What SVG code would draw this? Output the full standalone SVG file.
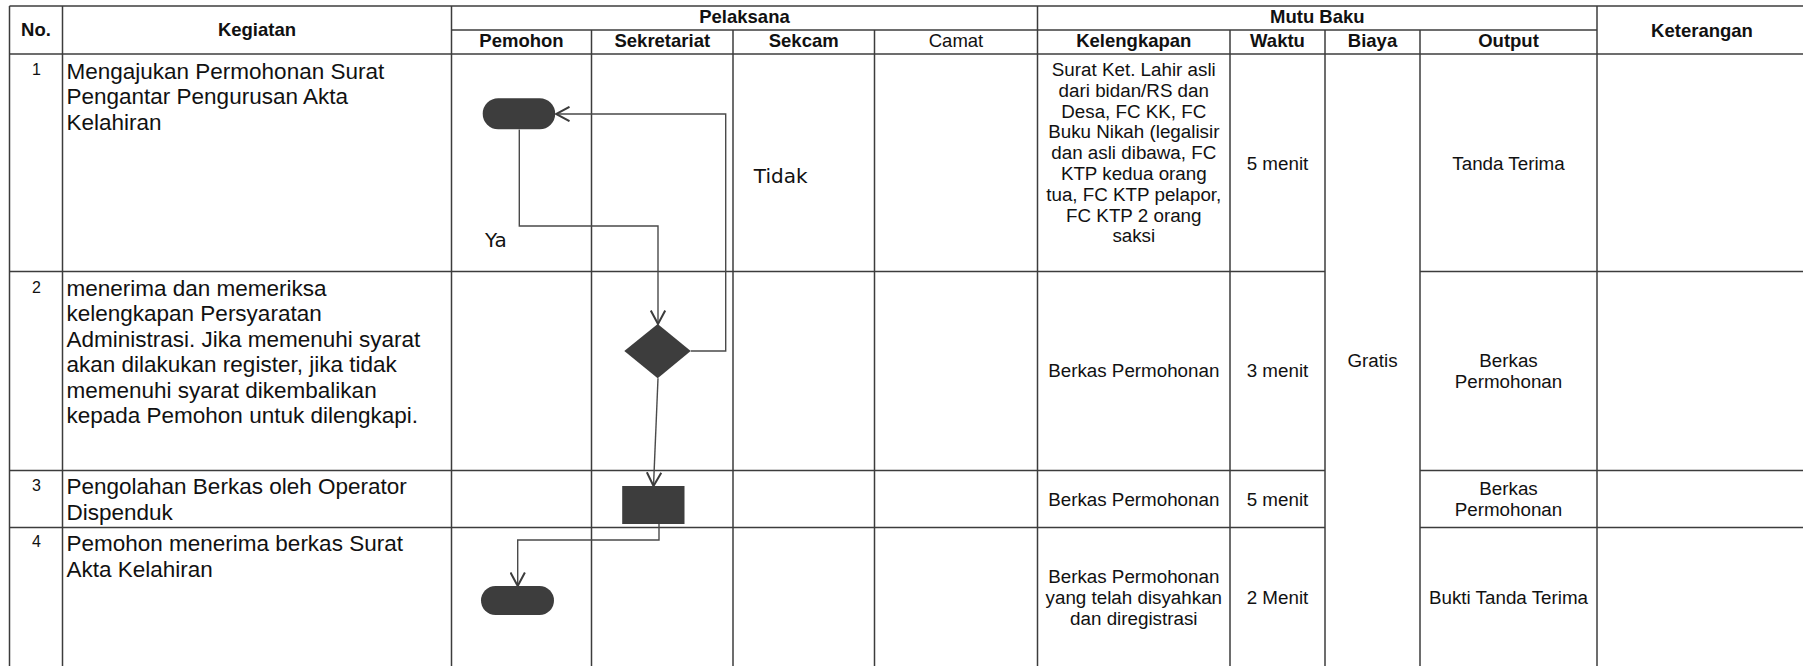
<svg xmlns="http://www.w3.org/2000/svg" width="1803" height="666" viewBox="0 0 1803 666">
<style>
.g{stroke:#3c3c3c;stroke-width:1.5;fill:none}
.c{stroke:#4a4a4a;stroke-width:1.4;fill:none}
.sh{fill:#3d3d3d}
.t{font-family:"Liberation Sans",Arial,sans-serif;fill:#111}
.h{font-size:18.5px;font-weight:bold;text-anchor:middle}
.hn{font-size:18.5px;text-anchor:middle}
.k{font-size:22.5px}
.n{font-size:16px;text-anchor:middle}
.m{font-size:18.8px;text-anchor:middle}
.d{font-family:"DejaVu Sans",sans-serif;font-size:20px;fill:#111}
</style>
<defs>
<marker id="ar" viewBox="0 0 15 16" refX="14" refY="8" markerWidth="15" markerHeight="16" markerUnits="userSpaceOnUse" orient="auto">
<path d="M0.5,0.8 L14,8 L0.5,15.2" fill="none" stroke="#3c3c3c" stroke-width="2"/>
</marker>
</defs>
<rect width="1803" height="666" fill="#fff"/>
<g id="grid" class="g">
<line x1="9.5" y1="6" x2="1807" y2="6"/>
<line x1="451.5" y1="30" x2="1597" y2="30"/>
<line x1="9.5" y1="54" x2="1807" y2="54"/>
<line x1="9.5" y1="271.5" x2="1325" y2="271.5"/>
<line x1="1420" y1="271.5" x2="1807" y2="271.5"/>
<line x1="9.5" y1="470.5" x2="1325" y2="470.5"/>
<line x1="1420" y1="470.5" x2="1807" y2="470.5"/>
<line x1="9.5" y1="527.5" x2="1325" y2="527.5"/>
<line x1="1420" y1="527.5" x2="1807" y2="527.5"/>
<line x1="9.5" y1="6" x2="9.5" y2="670"/>
<line x1="62.5" y1="6" x2="62.5" y2="670"/>
<line x1="451.5" y1="6" x2="451.5" y2="670"/>
<line x1="591.5" y1="30" x2="591.5" y2="670"/>
<line x1="733" y1="30" x2="733" y2="670"/>
<line x1="874.5" y1="30" x2="874.5" y2="670"/>
<line x1="1037.5" y1="6" x2="1037.5" y2="670"/>
<line x1="1230" y1="30" x2="1230" y2="670"/>
<line x1="1325" y1="30" x2="1325" y2="670"/>
<line x1="1420" y1="30" x2="1420" y2="670"/>
<line x1="1597" y1="6" x2="1597" y2="670"/>
</g>
<g id="header" class="t">
<text class="h" x="36" y="36">No.</text>
<text class="h" x="257" y="36">Kegiatan</text>
<text class="h" x="744.5" y="23.3">Pelaksana</text>
<text class="h" x="521.5" y="46.7">Pemohon</text>
<text class="h" x="662.3" y="46.7">Sekretariat</text>
<text class="h" x="803.7" y="46.7">Sekcam</text>
<text class="hn" x="956" y="46.7">Camat</text>
<text class="h" x="1317.3" y="23.3">Mutu Baku</text>
<text class="h" x="1133.8" y="46.7">Kelengkapan</text>
<text class="h" x="1277.5" y="46.7">Waktu</text>
<text class="h" x="1372.5" y="46.7">Biaya</text>
<text class="h" x="1508.5" y="46.7">Output</text>
<text class="h" x="1702" y="36.7">Keterangan</text>
</g>
<g id="row1" class="t">
<text class="n" x="36.5" y="74.5">1</text>
<text class="k"><tspan x="66.5" y="79">Mengajukan Permohonan Surat</tspan><tspan x="66.5" y="104.3">Pengantar Pengurusan Akta</tspan><tspan x="66.5" y="129.6">Kelahiran</tspan></text>
<text class="m"><tspan x="1133.8" y="76">Surat Ket. Lahir asli</tspan><tspan x="1133.8" y="96.8">dari bidan/RS dan</tspan><tspan x="1133.8" y="117.6">Desa, FC KK, FC</tspan><tspan x="1133.8" y="138.4">Buku Nikah (legalisir</tspan><tspan x="1133.8" y="159.2">dan asli dibawa, FC</tspan><tspan x="1133.8" y="180">KTP kedua orang</tspan><tspan x="1133.8" y="200.8">tua, FC KTP pelapor,</tspan><tspan x="1133.8" y="221.6">FC KTP 2 orang</tspan><tspan x="1133.8" y="242.4">saksi</tspan></text>
<text class="m" x="1277.5" y="170">5 menit</text>
<text class="m" x="1508.5" y="170">Tanda Terima</text>
</g>
<g id="row2" class="t">
<text class="n" x="36.5" y="293.3">2</text>
<text class="k"><tspan x="66.5" y="295.5">menerima dan memeriksa</tspan><tspan x="66.5" y="321">kelengkapan Persyaratan</tspan><tspan x="66.5" y="346.5">Administrasi. Jika memenuhi syarat</tspan><tspan x="66.5" y="372">akan dilakukan register, jika tidak</tspan><tspan x="66.5" y="397.5">memenuhi syarat dikembalikan</tspan><tspan x="66.5" y="423">kepada Pemohon untuk dilengkapi.</tspan></text>
<text class="m" x="1133.8" y="377.3">Berkas Permohonan</text>
<text class="m" x="1277.5" y="377.3">3 menit</text>
<text class="m"><tspan x="1508.5" y="366.7">Berkas</tspan><tspan x="1508.5" y="387.7">Permohonan</tspan></text>
</g>
<g id="row3" class="t">
<text class="n" x="36.5" y="490.7">3</text>
<text class="k"><tspan x="66.5" y="494">Pengolahan Berkas oleh Operator</tspan><tspan x="66.5" y="520">Dispenduk</tspan></text>
<text class="m" x="1133.8" y="506">Berkas Permohonan</text>
<text class="m" x="1277.5" y="506">5 menit</text>
<text class="m"><tspan x="1508.5" y="495">Berkas</tspan><tspan x="1508.5" y="516">Permohonan</tspan></text>
</g>
<g id="row4" class="t">
<text class="n" x="36.5" y="547.3">4</text>
<text class="k"><tspan x="66.5" y="551">Pemohon menerima berkas Surat</tspan><tspan x="66.5" y="576.5">Akta Kelahiran</tspan></text>
<text class="m"><tspan x="1133.8" y="583.3">Berkas Permohonan</tspan><tspan x="1133.8" y="604.3">yang telah disyahkan</tspan><tspan x="1133.8" y="625.3">dan diregistrasi</tspan></text>
<text class="m" x="1277.5" y="604.3">2 Menit</text>
<text class="m" x="1508.5" y="604.3">Bukti Tanda Terima</text>
</g>
<g id="biaya" class="t">
<text class="m" x="1372.5" y="367.3">Gratis</text>
</g>
<g id="connectors" class="c">
<path d="M519.3,129.5 V226 H658 V324" marker-end="url(#ar)"/>
<path d="M690.7,351 H725.7 V114 H556" marker-end="url(#ar)"/>
<path d="M658,378.3 L653.5,486" marker-end="url(#ar)"/>
<path d="M659,524 V540 H517.7 V586" marker-end="url(#ar)"/>
</g>
<g id="start"><rect class="sh" x="482.7" y="98.3" width="72.5" height="31" rx="15.5"/></g>
<g id="decision"><polygon class="sh" points="657.7,324 690.7,351 657.7,378.3 624.3,351"/></g>
<g id="process"><rect class="sh" x="622.2" y="486" width="62.3" height="38"/></g>
<g id="end"><rect class="sh" x="481" y="586" width="73" height="29" rx="14.5"/></g>
<g id="labels">
<text class="d" x="753.8" y="182.7">Tidak</text>
<text class="d" x="485" y="246.7">Ya</text>
</g>
</svg>
